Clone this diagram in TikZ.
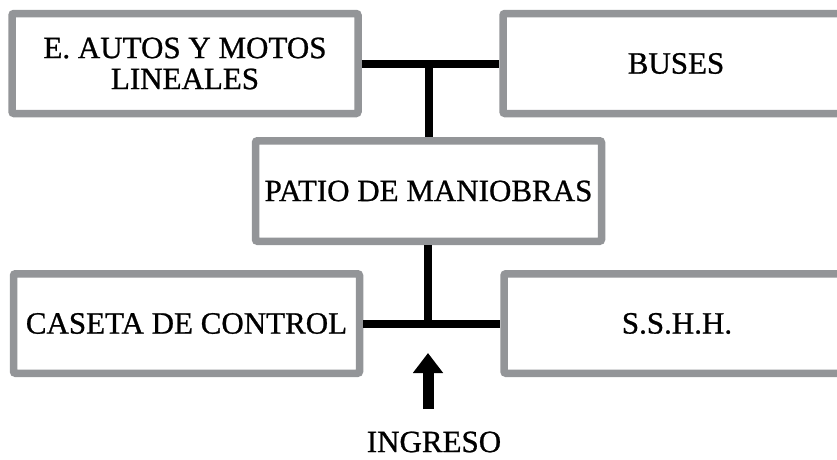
\documentclass[tikz,border=0pt]{standalone}
\usepackage{fontspec}
\setmainfont{Liberation Serif}[FakeBold=0.8]
\usetikzlibrary{arrows.meta}
\definecolor{boxgray}{RGB}{147,149,152}
\tikzset{
  area/.style={draw=boxgray, line width=7.5pt, rounded corners=2pt, fill=white,
    minimum width=346pt, minimum height=100pt, inner sep=0pt, align=center,
    font=\fontsize{31}{31}\selectfont},
  link/.style={draw=black, line width=8pt},
  entry/.style={draw=black, line width=11pt, -{Triangle[width=29pt,length=20pt]}},
  lbl/.style={font=\fontsize{31}{31}\selectfont, inner sep=0pt}
}
\begin{document}
\begin{tikzpicture}[x=1pt, y=-1pt]
\useasboundingbox (0,0) rectangle (837,459);
\clip (0,0) rectangle (837,459);
\node[area] (autos) at (185,63.5) {E. AUTOS Y MOTOS\\LINEALES};
\node[area] (buses) at (676,63.5) {BUSES};
\node[area, minimum height=100.5pt] (patio) at (428.5,191) {PATIO DE MANIOBRAS};
\node[area, minimum height=99.5pt] (caseta) at (186.5,323.5) {CASETA DE CONTROL};
\node[area, minimum height=99.5pt] (sshh) at (677,323.5) {S.S.H.H.};
\coordinate (topj) at (429,63.5);
\coordinate (botj) at (428,323.5);
\draw[link] (autos.east) -- (buses.west);
\draw[link] (topj) -- (topj |- patio.north);
\draw[link] (caseta.east) -- (sshh.west);
\draw[link] (botj |- patio.south) -- (botj);
\coordinate (arrowstart) at (428,409);
\coordinate (arrowtip) at (428,353);
\draw[entry] (arrowstart) -- (arrowtip);
\node[lbl] (ingreso) at (434,442) {INGRESO};
\end{tikzpicture}
\end{document}
